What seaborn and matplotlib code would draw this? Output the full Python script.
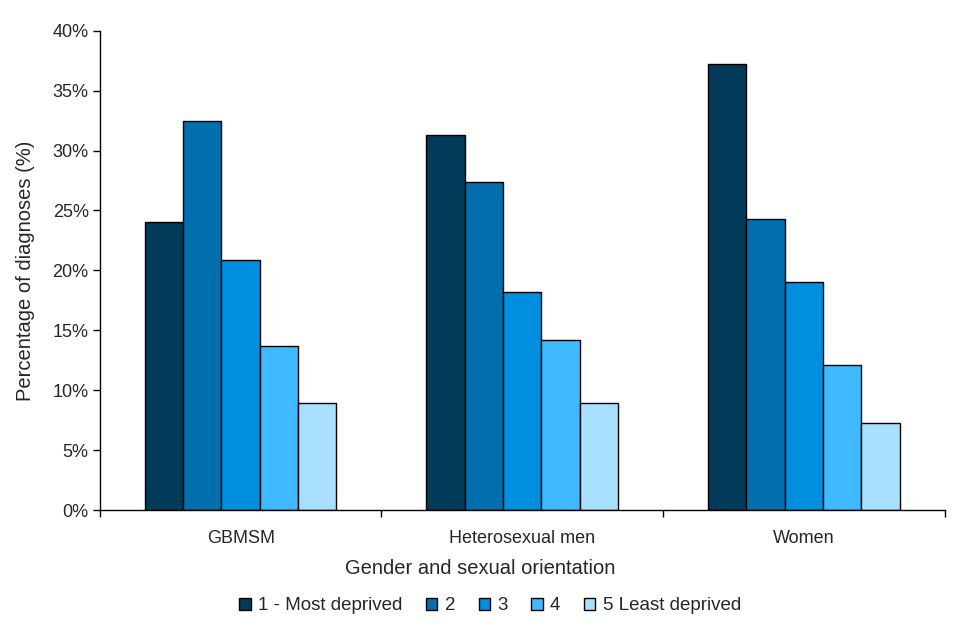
import pandas as pd
import seaborn as sns
import matplotlib.pyplot as plt
from matplotlib.ticker import PercentFormatter, FixedLocator

groups = ['GBMSM', 'Heterosexual men', 'Women']
quintiles = ['1 - Most deprived', '2', '3', '4', '5 Least deprived']
gbmsm = [24.0, 32.5, 20.9, 13.7, 8.9]
hetero_men = [31.3, 27.4, 18.2, 14.2, 8.9]
women = [37.2, 24.3, 19.0, 12.1, 7.3]
colours = ['#023A59', '#016EAE', '#008FDF', '#3FB9FF', '#A9E0FF']

def criar_dataframe():
    linhas = []
    for g, vals in zip(groups, [gbmsm, hetero_men, women]):
        for q, v in zip(quintiles, vals):
            linhas.append({'Grupo': g, 'Quintil': q, 'Valor': v})
    return pd.DataFrame(linhas)

def desenhar(df):
    sns.set_style('white')
    plt.rcParams['font.family'] = ['Liberation Sans', 'DejaVu Sans']
    fig = plt.figure(figsize=(9.6, 6.4), dpi=100)
    ax = fig.add_axes([0.104, 0.203, 0.88, 0.749])

    sns.barplot(data=df, x='Grupo', y='Valor', hue='Quintil', order=groups,
                hue_order=quintiles, palette=colours, width=0.68,
                edgecolor='black', linewidth=1, saturation=1, ax=ax)

    ax.set_ylim(0, 40)
    ax.set_xlim(-0.5, 2.5)
    ax.yaxis.set_major_formatter(PercentFormatter(decimals=0))
    ax.set_yticks(range(0, 41, 5))
    ax.tick_params(axis='y', labelsize=13, length=5, width=1, color='black', direction='out', left=True, pad=3)
    ax.tick_params(axis='x', which='major', labelsize=13, length=0, pad=14)
    ax.xaxis.set_minor_locator(FixedLocator([-0.5, 0.5, 1.5, 2.5]))
    ax.tick_params(axis='x', which='minor', length=5, width=1, color='black', direction='out', bottom=True)

    for s in ['top', 'right']:
        ax.spines[s].set_visible(False)
    for s in ['left', 'bottom']:
        ax.spines[s].set_color('black')
        ax.spines[s].set_linewidth(1)

    # titulo do eixo x centrado na figura, como no original
    ax.set_xlabel('Gender and sexual orientation', fontsize=14.5)
    ax.xaxis.set_label_coords(0.45, -0.102)
    ax.set_ylabel('Percentage of diagnoses (%)', fontsize=14.5, labelpad=13)

    ax.legend(loc='center', bbox_to_anchor=(0.462, -0.2), ncol=5, frameon=False,
              fontsize=13.5, handlelength=0.6, handleheight=0.6, handletextpad=0.4,
              columnspacing=1.25)

    fig.savefig('out.png', dpi=100)

def main():
    df = criar_dataframe()
    desenhar(df)

if __name__ == '__main__':
    main()
